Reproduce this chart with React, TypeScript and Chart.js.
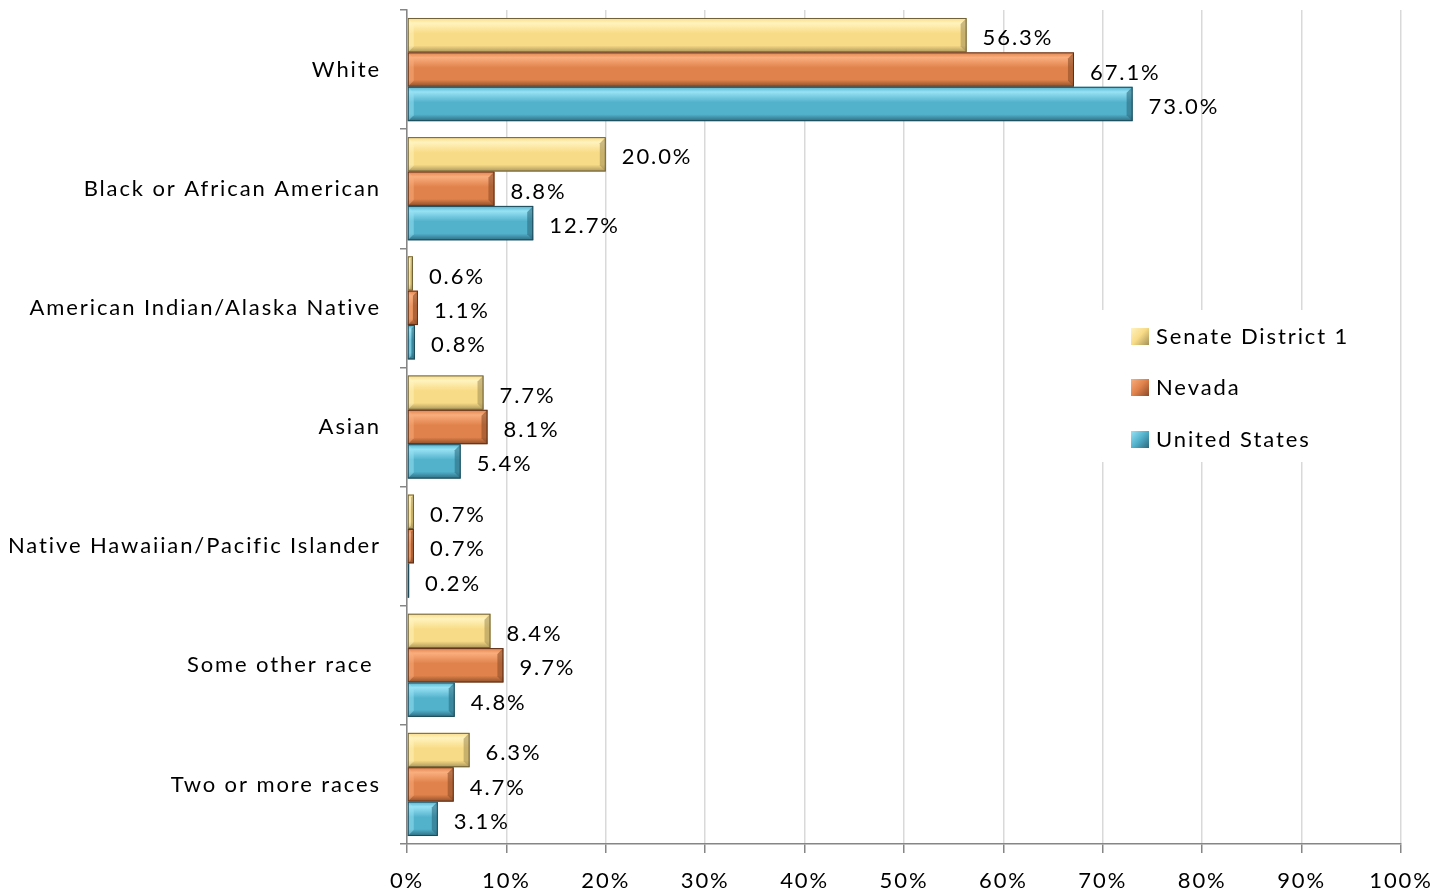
import React, { useEffect, useRef } from "react";
import { Chart, registerables } from "chart.js";

Chart.register(...registerables);

const categories = [
  "White",
  "Black or African American",
  "American Indian/Alaska Native",
  "Asian",
  "Native Hawaiian/Pacific Islander",
  "Some other race ",
  "Two or more races",
];
const senateDistrict1 = [56.3, 20.0, 0.6, 7.7, 0.7, 8.4, 6.3];
const nevada = [67.1, 8.8, 1.1, 8.1, 0.7, 9.7, 4.7];
const unitedStates = [73.0, 12.7, 0.8, 5.4, 0.2, 4.8, 3.1];
const seriesNames = ["Senate District 1", "Nevada", "United States"];
const xTicks = [0, 10, 20, 30, 40, 50, 60, 70, 80, 90, 100];

const FONT = "Lato, 'Open Sans', sans-serif";
const SPACING = "1.9px";

// [light, mid, dark, edge]
const palettes = [
  ["#FFF3BE", "#F8DB86", "#A8955A", "#6E6138"],
  ["#F9AE7E", "#E0824B", "#8E4E2A", "#5C3018"],
  ["#98E2F4", "#52B2CC", "#2D6C80", "#1E4A58"],
];

const spacingPlugin = {
  id: "spacing",
  beforeInit(chart: any) {
    chart.ctx.letterSpacing = SPACING;
  },
  beforeUpdate(chart: any) {
    chart.ctx.letterSpacing = SPACING;
  },
  beforeDraw(chart: any) {
    chart.ctx.letterSpacing = SPACING;
  },
};

const barStylePlugin = {
  id: "barStyle",
  afterDatasetsDraw(chart: any) {
    const ctx = chart.ctx;
    chart.data.datasets.forEach((ds: any, di: number) => {
      const meta = chart.getDatasetMeta(di);
      const p = palettes[di];
      meta.data.forEach((bar: any, i: number) => {
        const x0 = Math.min(bar.base, bar.x);
        const x1 = Math.max(bar.base, bar.x);
        const h = bar.height;
        const y0 = bar.y - h / 2;
        const y1 = bar.y + h / 2;
        const w = x1 - x0;
        ctx.save();
        const g = ctx.createLinearGradient(0, y0, 0, y1);
        g.addColorStop(0, p[1]);
        g.addColorStop(0.15, p[0]);
        g.addColorStop(0.45, p[1]);
        g.addColorStop(0.8, p[1]);
        g.addColorStop(1, p[2]);
        ctx.fillStyle = g;
        ctx.fillRect(x0, y0, w, h);
        const b = Math.min(6, w / 2);
        ctx.fillStyle = p[2];
        ctx.globalAlpha = 0.6;
        ctx.beginPath();
        ctx.moveTo(x1, y0);
        ctx.lineTo(x1, y1);
        ctx.lineTo(x1 - b, y1 - b);
        ctx.lineTo(x1 - b, y0 + b);
        ctx.closePath();
        ctx.fill();
        ctx.fillStyle = p[0];
        ctx.globalAlpha = 0.5;
        ctx.beginPath();
        ctx.moveTo(x0, y0);
        ctx.lineTo(x0 + b, y0 + b);
        ctx.lineTo(x0 + b, y1 - b);
        ctx.lineTo(x0, y1);
        ctx.closePath();
        ctx.fill();
        ctx.globalAlpha = 1;
        ctx.strokeStyle = p[3];
        ctx.lineWidth = 1;
        ctx.strokeRect(x0 + 0.5, y0 + 0.5, Math.max(w - 1, 0.5), h - 1);
        ctx.restore();

        ctx.save();
        ctx.letterSpacing = SPACING;
        ctx.font = `22px ${FONT}`;
        ctx.fillStyle = "#000";
        ctx.textAlign = "left";
        ctx.textBaseline = "middle";
        ctx.fillText(ds.data[i].toFixed(1) + "%", x1 + 16, bar.y + 3);
        ctx.restore();
      });
    });
  },
};

const legendPlugin = {
  id: "customLegend",
  afterDraw(chart: any) {
    const ctx = chart.ctx;
    ctx.save();
    ctx.fillStyle = "#fff";
    ctx.fillRect(1096, 310, 262, 152);
    const ys = [336, 387, 439];
    ys.forEach((y, i) => {
      const p = palettes[i];
      const g = ctx.createLinearGradient(1131, y - 8, 1149, y + 8);
      g.addColorStop(0, p[0]);
      g.addColorStop(0.5, p[1]);
      g.addColorStop(1, p[2]);
      ctx.fillStyle = g;
      ctx.fillRect(1131, y - 8, 18, 17);
      ctx.fillStyle = "#000";
      ctx.letterSpacing = SPACING;
      ctx.font = `22px ${FONT}`;
      ctx.textAlign = "left";
      ctx.textBaseline = "middle";
      ctx.fillText(seriesNames[i], 1156, y + 1);
    });
    ctx.restore();
  },
};

export default function App() {
  const ref = useRef<HTMLCanvasElement>(null);
  useEffect(() => {
    if (!ref.current) return;
    const mk = (label: string, data: number[]) => ({
      label,
      data,
      backgroundColor: "rgba(0,0,0,0)",
      borderWidth: 0,
      categoryPercentage: 0.866,
      barPercentage: 1.0,
    });
    const chart = new Chart(ref.current, {
      type: "bar",
      data: {
        labels: categories,
        datasets: [
          mk(seriesNames[0], senateDistrict1),
          mk(seriesNames[1], nevada),
          mk(seriesNames[2], unitedStates),
        ],
      },
      options: {
        indexAxis: "y",
        responsive: false,
        animation: false,
        layout: { padding: { top: 10, right: 49, left: 0, bottom: 0 } },
        plugins: {
          legend: { display: false },
          tooltip: { enabled: false },
        },
        scales: {
          x: {
            min: 0,
            max: 100,
            afterBuildTicks(axis: any) {
              axis.ticks = xTicks.map((v) => ({ value: v }));
            },
            afterFit(axis: any) {
              axis.height = 48;
              axis.paddingLeft = 0;
              axis.paddingRight = 0;
            },
            ticks: {
              callback: (v: any) => v + "%",
              color: "#000",
              font: { family: FONT, size: 22 },
              padding: 15,
              maxRotation: 0,
            },
            grid: {
              color: "#D9D9D9",
              lineWidth: 1.5,
              tickLength: 9,
              tickColor: "#868686",
            },
            border: { color: "#868686", width: 1.5 },
          },
          y: {
            afterFit(axis: any) {
              axis.width = 407;
              axis.paddingTop = 0;
              axis.paddingBottom = 0;
            },
            ticks: {
              color: "#000",
              font: { family: FONT, size: 22 },
              padding: 19,
            },
            grid: {
              offset: true,
              drawOnChartArea: false,
              tickLength: 7,
              tickColor: "#868686",
              lineWidth: 1.5,
            },
            border: { color: "#868686", width: 1.5 },
          },
        },
      },
      plugins: [spacingPlugin, barStylePlugin, legendPlugin],
    });
    return () => chart.destroy();
  }, []);
  return (
    <div style={{ position: "absolute", left: 0, top: 0, width: 1450, height: 892, background: "#fff" }}>
      <canvas ref={ref} width={1450} height={892} style={{ width: 1450, height: 892 }} />
    </div>
  );
}
